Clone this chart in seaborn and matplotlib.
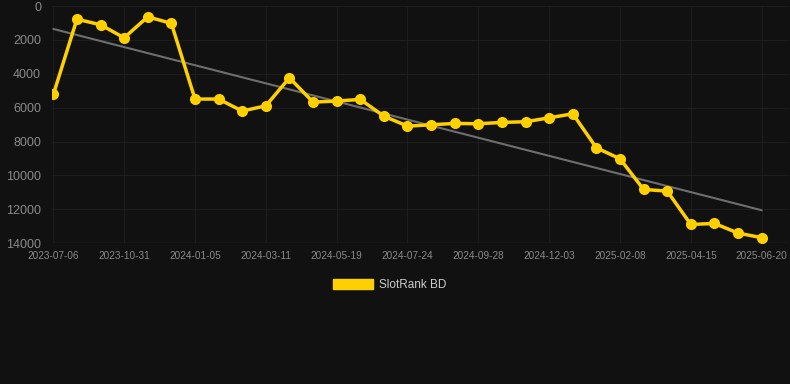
import numpy as np
import pandas as pd
import matplotlib
matplotlib.use("Agg")
import matplotlib.pyplot as plt
import seaborn as sns
from matplotlib.patches import Patch

# rank history (lower is better), one point per sample date
dates = [
    "2023-07-06", "2023-08-14", "2023-09-22", "2023-10-31", "2023-11-22", "2023-12-14",
    "2024-01-05", "2024-01-27", "2024-02-18", "2024-03-11", "2024-04-03", "2024-04-26",
    "2024-05-19", "2024-06-10", "2024-07-02", "2024-07-24", "2024-08-15", "2024-09-06",
    "2024-09-28", "2024-10-20", "2024-11-11", "2024-12-03", "2024-12-25", "2025-01-17",
    "2025-02-08", "2025-03-02", "2025-03-24", "2025-04-15", "2025-05-07", "2025-05-29",
    "2025-06-20",
]
ranks = [
    5220, 770, 1100, 1870, 630, 1020,
    5490, 5490, 6200, 5890, 4235, 5670,
    5610, 5510, 6500, 7090, 7010, 6930,
    6950, 6870, 6830, 6600, 6360, 8370,
    9020, 10830, 10930, 12900, 12840, 13410,
    13680,
]
y_ticks = [0, 2000, 4000, 6000, 8000, 10000, 12000, 14000]
series_name = "SlotRank BD"

bg = "#111111"
gold = "#FFD000"

df = pd.DataFrame({"date": dates, "rank": ranks})
df["idx"] = np.arange(len(df))

sns.set_style("dark")
plt.rcParams["font.family"] = ["Liberation Sans", "DejaVu Sans"]

fig = plt.figure(figsize=(7.9, 3.84), dpi=100, facecolor=bg)
ax = fig.add_axes([0.066, 0.367, 0.931, 0.617])
ax.set_facecolor(bg)

# trend line
sns.regplot(data=df, x="idx", y="rank", scatter=False, ci=None, ax=ax,
            line_kws={"color": "#6e6e6e", "linewidth": 1.5})
sns.lineplot(data=df, x="idx", y="rank", ax=ax, color=gold, linewidth=2.5,
             marker="o", markersize=8, markeredgewidth=0, zorder=5)

ax.set_xlim(-0.05, 31.1)
ax.set_ylim(14000, 0)
ax.set_yticks(y_ticks)
ax.set_yticklabels([str(v) for v in y_ticks])
tick_idx = list(range(0, len(dates), 3))
ax.set_xticks(tick_idx)
ax.set_xticklabels([dates[i] for i in tick_idx])

ax.grid(True, color="#1d1d1d", linewidth=0.8)
for s in ax.spines.values():
    s.set_visible(False)
ax.axhline(14000, color="#2e2e2e", linewidth=1)
ax.tick_params(axis="x", colors="#8a8a8a", labelsize=7.2, length=0, pad=6)
ax.tick_params(axis="y", colors="#8a8a8a", labelsize=9, length=0, pad=8)
ax.set_xlabel("")
ax.set_ylabel("")

handle = Patch(facecolor=gold, edgecolor=gold)
fig.legend([handle], [series_name], loc="center", bbox_to_anchor=(0.493, 0.258),
           frameon=False, fontsize=8.5, labelcolor="#cccccc",
           handlelength=3.4, handleheight=0.95, handletextpad=0.5)

fig.savefig("out.png", dpi=100, facecolor=bg)
